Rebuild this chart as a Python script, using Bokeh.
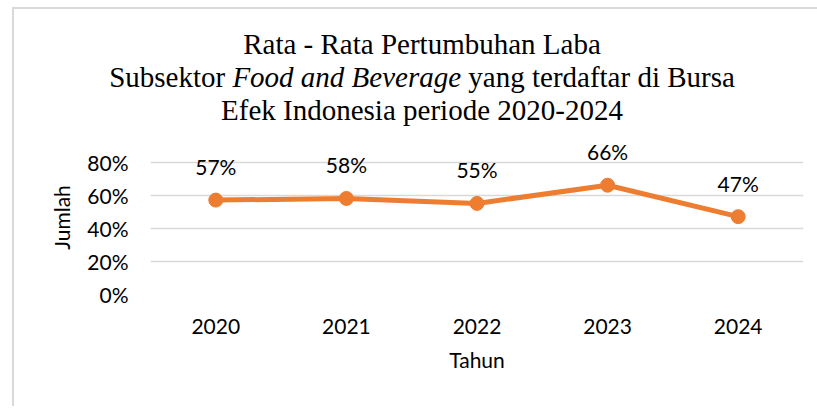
from bokeh.plotting import figure
from bokeh.models import (Div, ColumnDataSource, LabelSet, FactorRange, Range1d,
                          FixedTicker, NumeralTickFormatter)
from bokeh.core.properties import value
from bokeh.layouts import column
from bokeh.embed import file_html
from bokeh.resources import INLINE

# ---- data ----
years = ["2020", "2021", "2022", "2023", "2024"]
growth = [0.57, 0.58, 0.55, 0.66, 0.47]
y_ticks = [0.0, 0.2, 0.4, 0.6, 0.8]
title_line1 = "Rata - Rata Pertumbuhan Laba"
title_line2_a = "Subsektor "
title_line2_b = "Food and Beverage"
title_line2_c = " yang terdaftar di Bursa"
title_line3 = "Efek Indonesia periode 2020-2024"
x_label = "Tahun"
y_label = "Jumlah"

ORANGE = "#ED7D31"
GRID = "#d9d9d9"
SANS = "Lato"

labels = [f"{round(v * 100)}%" for v in growth]
src = ColumnDataSource(dict(year=years, val=growth, lab=labels))

title_html = (
    '<div style="font-family:\'Liberation Serif\',serif; font-size:29px; line-height:33px;'
    ' text-align:center; color:#000; padding-top:19px; margin-left:18px; width:780px;'
    ' white-space:nowrap;">'
    f'{title_line1}<br>{title_line2_a}<i>{title_line2_b}</i>{title_line2_c}<br>{title_line3}</div>'
)
title_div = Div(text=title_html, width=803, height=125, margin=0)

p = figure(width=803, height=272, x_range=FactorRange(factors=years, range_padding=0),
           y_range=Range1d(0, 0.93), output_backend="svg", toolbar_location=None,
           min_border_left=136, min_border_right=14, min_border_top=6, min_border_bottom=112)
p.outline_line_color = None

p.line("year", "val", source=src, line_color=ORANGE, line_width=5)
p.scatter("year", "val", source=src, size=14, fill_color=ORANGE, line_color=ORANGE)

p.add_layout(LabelSet(x="year", y="val", text="lab", source=src, y_offset=25,
                      text_align="center", text_baseline="alphabetic",
                      text_font=value(SANS), text_font_size=value("21px"),
                      text_color=value("#000")))

p.yaxis.ticker = FixedTicker(ticks=y_ticks)
p.yaxis.formatter = NumeralTickFormatter(format="0%")
p.ygrid.ticker = FixedTicker(ticks=y_ticks)
p.ygrid.grid_line_color = GRID
p.ygrid.grid_line_width = 1.5
p.xgrid.grid_line_color = None

for ax in (p.xaxis, p.yaxis):
    ax.axis_line_color = None
    ax.major_tick_line_color = None
    ax.minor_tick_line_color = None
    ax.major_tick_out = 0
    ax.major_label_text_font = SANS
    ax.major_label_text_font_size = "21px"
    ax.major_label_text_color = "#000"
    ax.axis_label_text_font = SANS
    ax.axis_label_text_font_size = "21px"
    ax.axis_label_text_font_style = "normal"
    ax.axis_label_text_color = "#000"

p.xaxis.axis_label = x_label
p.yaxis.axis_label = y_label
p.yaxis.major_label_standoff = 22
p.yaxis.axis_label_standoff = 10
p.xaxis.major_label_standoff = 24
p.xaxis.axis_label_standoff = 10

layout = column(title_div, p, spacing=0,
                styles={"margin-left": "12px", "margin-top": "7px",
                        "border-left": "2px solid #d9d9d9", "border-top": "2px solid #d9d9d9"})

open("out.html", "w").write(file_html(layout, INLINE))
